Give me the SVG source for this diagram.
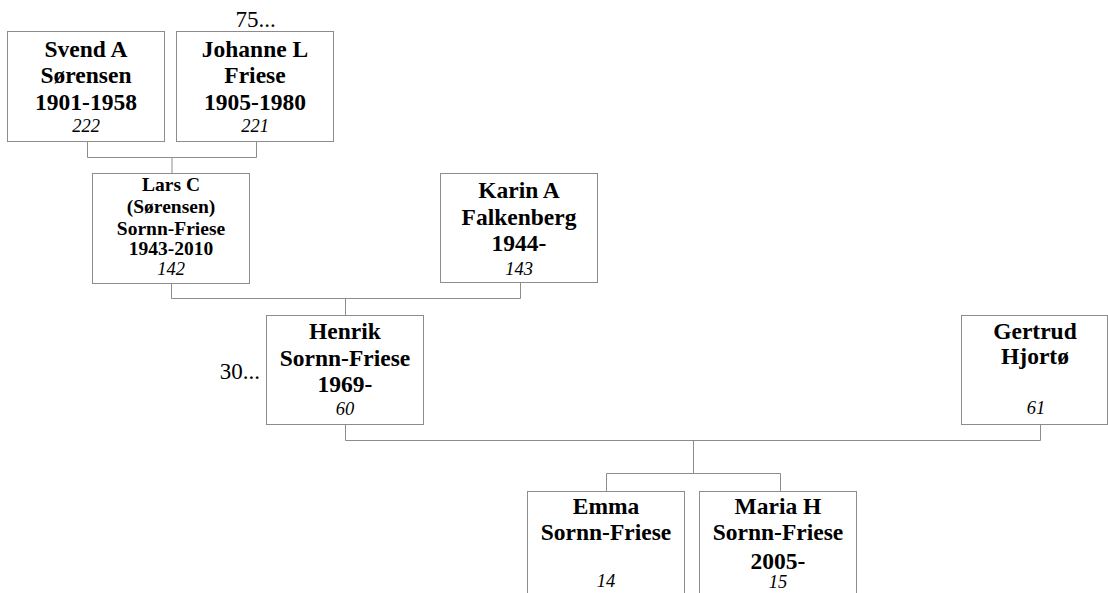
<svg xmlns="http://www.w3.org/2000/svg" width="1108" height="593" viewBox="0 0 1108 593">
<style>
.box{fill:#fff;stroke:#8c8c8c;stroke-width:1}
.c{fill:none;stroke:#8c8c8c;stroke-width:1}
text{font-family:"Liberation Serif","Times New Roman",serif;fill:#000;text-anchor:middle}
.b{font-weight:bold;font-size:23.5px}
.bs{font-weight:bold;font-size:19.5px}
.i{font-style:italic;font-size:18.5px}
.r{font-size:23px}
</style>
<rect width="1108" height="593" fill="#fff"/>
<g id="connectors">
<path class="c" d="M87.5 141.5V157.5H256.5V141.5M172 157.5V173.5"/>
<path class="c" d="M171.5 283.5V298.5H520.5V282.5M345.5 298.5V315.5"/>
<path class="c" d="M345.5 424.5V440.5H1040.5V424.5M693.5 440.5V473.5"/>
<path class="c" d="M606.5 491.5V473.5H780.5V491.5"/>
</g>
<g id="n222">
<rect class="box" x="7.5" y="31.5" width="157" height="110"/>
<text class="b" x="86" y="56.5">Svend A</text>
<text class="b" x="86" y="83">Sørensen</text>
<text class="b" x="86" y="110">1901-1958</text>
<text class="i" x="86" y="131.5">222</text>
</g>
<g id="n221">
<text class="r" x="255.5" y="26.5">75...</text>
<rect class="box" x="176.5" y="31.5" width="157" height="110"/>
<text class="b" x="255" y="56.5">Johanne L</text>
<text class="b" x="255" y="83">Friese</text>
<text class="b" x="255" y="110">1905-1980</text>
<text class="i" x="255" y="131.5">221</text>
</g>
<g id="n142">
<rect class="box" x="92.5" y="173.5" width="157" height="110"/>
<text class="bs" x="171" y="191">Lars C</text>
<text class="bs" x="171" y="213">(Sørensen)</text>
<text class="bs" x="171" y="234.5">Sornn-Friese</text>
<text class="bs" x="171" y="255">1943-2010</text>
<text class="i" x="171" y="275">142</text>
</g>
<g id="n143">
<rect class="box" x="440.5" y="173.5" width="157" height="109"/>
<text class="b" x="519" y="198">Karin A</text>
<text class="b" x="519" y="224.5">Falkenberg</text>
<text class="b" x="519" y="251">1944-</text>
<text class="i" x="519" y="275">143</text>
</g>
<g id="n60">
<text class="r" x="260" y="378.5" style="text-anchor:end">30...</text>
<rect class="box" x="266.5" y="315.5" width="157" height="109"/>
<text class="b" x="345" y="339">Henrik</text>
<text class="b" x="345" y="365.5">Sornn-Friese</text>
<text class="b" x="345" y="392">1969-</text>
<text class="i" x="345" y="415">60</text>
</g>
<g id="n61">
<rect class="box" x="961.5" y="315.5" width="146" height="109"/>
<text class="b" x="1035" y="339">Gertrud</text>
<text class="b" x="1035" y="363.5">Hjortø</text>
<text class="i" x="1036" y="414">61</text>
</g>
<g id="n14">
<rect class="box" x="527.5" y="491.5" width="157" height="110"/>
<text class="b" x="606" y="513.5">Emma</text>
<text class="b" x="606" y="540">Sornn-Friese</text>
<text class="i" x="606" y="587">14</text>
</g>
<g id="n15">
<rect class="box" x="699.5" y="491.5" width="157" height="110"/>
<text class="b" x="778" y="513.5">Maria H</text>
<text class="b" x="778" y="540">Sornn-Friese</text>
<text class="b" x="778" y="568.5">2005-</text>
<text class="i" x="778" y="588">15</text>
</g>
</svg>
